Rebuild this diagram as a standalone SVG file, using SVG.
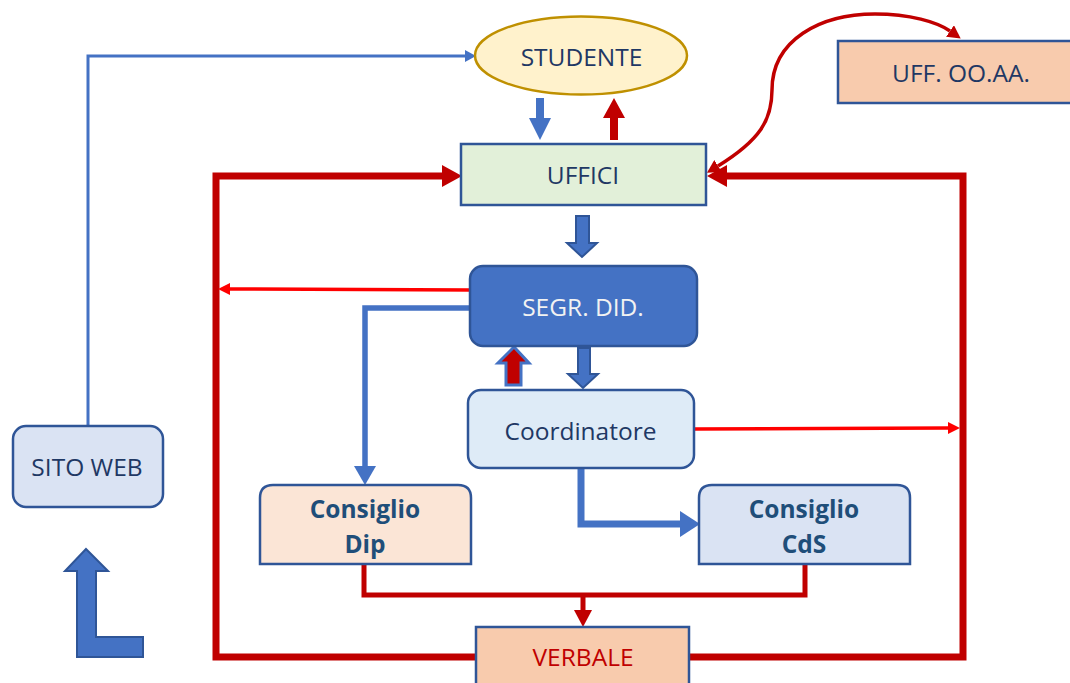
<svg xmlns="http://www.w3.org/2000/svg" width="1070" height="683" viewBox="0 0 1070 683">
<style>
.box{stroke:#2F5597;stroke-width:2.5}
.t{font-family:"Open Sans","Noto Sans",sans-serif;font-size:24.5px;fill:#1F3864;text-anchor:middle}
.b{font-weight:bold;fill:#1F4E79}
.rk{fill:none;stroke:#C00000;stroke-width:7;stroke-linejoin:miter}
.rm{fill:none;stroke:#C00000;stroke-width:5}
.rt{fill:none;stroke:#FF0000;stroke-width:3.5}
.bt{fill:none;stroke:#4472C4;stroke-width:3}
.bm{fill:none;stroke:#4472C4;stroke-width:5.5}
.bk{fill:none;stroke:#4472C4;stroke-width:7}
.cv{fill:none;stroke:#C00000;stroke-width:3.5}
</style>
<defs>
<marker id="aRk" markerUnits="userSpaceOnUse" markerWidth="20" markerHeight="22" refX="0" refY="11" orient="auto"><path d="M0,0 L20,11 L0,22 z" fill="#C00000"/></marker>
<marker id="aRm" markerUnits="userSpaceOnUse" markerWidth="17" markerHeight="18" refX="0" refY="9" orient="auto"><path d="M0,0 L17,9 L0,18 z" fill="#C00000"/></marker>
<marker id="aRt" markerUnits="userSpaceOnUse" markerWidth="12" markerHeight="12" refX="0" refY="6" orient="auto"><path d="M0,0 L12,6 L0,12 z" fill="#FF0000"/></marker>
<marker id="aCv" markerUnits="userSpaceOnUse" markerWidth="13" markerHeight="14" refX="0" refY="7" orient="auto-start-reverse"><path d="M0,0 L13,7 L0,14 z" fill="#C00000"/></marker>
<marker id="aBt" markerUnits="userSpaceOnUse" markerWidth="11" markerHeight="12" refX="0" refY="6" orient="auto"><path d="M0,0 L11,6 L0,12 z" fill="#4472C4"/></marker>
<marker id="aBm" markerUnits="userSpaceOnUse" markerWidth="19" markerHeight="22" refX="0" refY="11" orient="auto"><path d="M0,0 L19,11 L0,22 z" fill="#4472C4"/></marker>
<marker id="aBk" markerUnits="userSpaceOnUse" markerWidth="20" markerHeight="26" refX="0" refY="13" orient="auto"><path d="M0,0 L20,13 L0,26 z" fill="#4472C4"/></marker>
</defs>

<g id="connectors">
<path class="bt" d="M88,426 L88,56 L465,56" marker-end="url(#aBt)"/>
<path class="rk" d="M476,657 L216,657 L216,176 L442,176" marker-end="url(#aRk)"/>
<path class="rk" d="M689,657 L963,657 L963,176 L727,176" marker-end="url(#aRk)"/>
<path class="cv" d="M718,166 C760,140 772,120 772,90 C772,40 820,14 875,14 C910,14 937,22 950,31" marker-start="url(#aCv)" marker-end="url(#aCv)"/>
<path class="rt" d="M470,290 L230,289" marker-end="url(#aRt)"/>
<path class="rt" d="M694,429 L948,428" marker-end="url(#aRt)"/>
<path class="bm" d="M470,308 L365,308 L365,466" marker-end="url(#aBm)"/>
<path class="bk" d="M581,468 L581,524 L680,524" marker-end="url(#aBk)"/>
<path class="rm" d="M364,564 L364,595 L805,595 L805,564"/>
<path class="rm" d="M583,595 L583,610" marker-end="url(#aRm)"/>
<polygon points="536,98 544,98 544,118 551,118 540,140 529,118 536,118" fill="#4472C4"/>
<polygon points="610,140 618,140 618,118 625,118 614,98 603,118 610,118" fill="#C00000"/>
<polygon points="576,216 589,216 589,243 597,243 582,257 567,243 576,243" fill="#4472C4" stroke="#2F5597" stroke-width="2"/>
<polygon points="578,348 590,348 590,374 598,374 583,388 568,374 578,374" fill="#4472C4" stroke="#2F5597" stroke-width="2"/>
<polygon points="506,385 521,385 521,363 529,363 514,347 498,363 506,363" fill="#C00000" stroke="#4472C4" stroke-width="3"/>
<polygon points="86,549 108,571 96,571 96,637 143,637 143,657 77,657 77,571 65,571" fill="#4472C4" stroke="#2F5597" stroke-width="2"/>
</g>

<g id="studente">
<ellipse cx="581" cy="55.5" rx="106" ry="39" fill="#FFF2CC" stroke="#BF9000" stroke-width="2.5"/>
<text class="t" x="581.5" y="66">STUDENTE</text>
</g>
<g id="uffici">
<rect class="box" x="461" y="144" width="245" height="61" fill="#E2F0D9"/>
<text class="t" x="583" y="184">UFFICI</text>
</g>
<g id="uff-ooaa">
<rect class="box" x="838" y="41" width="245" height="62" fill="#F8CBAD"/>
<text class="t" x="961" y="82">UFF. OO.AA.</text>
</g>
<g id="segr-did">
<rect class="box" x="470" y="266" width="227" height="80" rx="13" fill="#4472C4"/>
<text class="t" x="583" y="316" style="fill:#F2F2F2">SEGR. DID.</text>
</g>
<g id="coordinatore">
<rect class="box" x="468" y="390" width="226" height="78" rx="13" fill="#DEEBF7"/>
<text class="t" x="580.5" y="440">Coordinatore</text>
</g>
<g id="sito-web">
<rect class="box" x="13" y="426" width="150" height="81" rx="13" fill="#DAE3F3"/>
<text class="t" x="87" y="476">SITO WEB</text>
</g>
<g id="consiglio-dip">
<path class="box" d="M260,564 L260,498 Q260,485 273,485 L458,485 Q471,485 471,498 L471,564 Z" fill="#FBE5D6"/>
<text class="t b" x="365" y="518">Consiglio</text>
<text class="t b" x="365" y="553">Dip</text>
</g>
<g id="consiglio-cds">
<path class="box" d="M699,564 L699,498 Q699,485 712,485 L897,485 Q910,485 910,498 L910,564 Z" fill="#DAE3F3"/>
<text class="t b" x="804" y="518">Consiglio</text>
<text class="t b" x="804" y="553">CdS</text>
</g>
<g id="verbale">
<rect class="box" x="476" y="627" width="213" height="62" fill="#F8CBAD"/>
<text class="t" x="583" y="666" style="fill:#C00000">VERBALE</text>
</g>
</svg>
